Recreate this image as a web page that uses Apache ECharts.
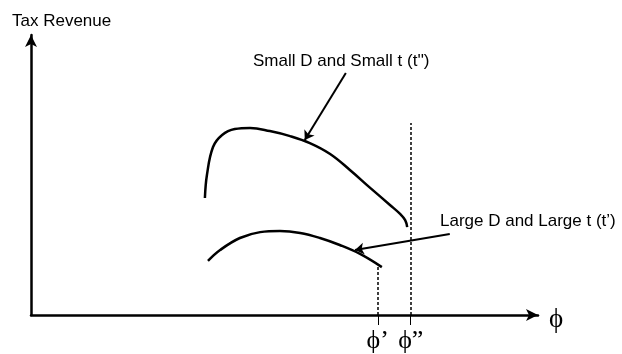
<!DOCTYPE html>
<html>
<head>
<meta charset="utf-8">
<script src="https://cdn.jsdelivr.net/npm/echarts@6/dist/echarts.min.js"></script>
<style>
  html, body { margin: 0; padding: 0; background: #fff; }
  #chart { width: 622px; height: 354px; }
</style>
</head>
<body>
<div id="chart"></div>
<script>
// schematic values, both axes run 0..100
var smallPhi = [34.3, 34.7, 35.9, 37.7, 40.2, 43.2, 47.1, 51.1, 55.0, 59.0, 62.9, 66.9, 70.8, 72.8, 73.8, 74.2];
var smallRev = [41.8, 50.0, 60.0, 64.3, 66.4, 66.8, 65.7, 63.9, 61.4, 57.5, 51.8, 45.4, 39.3, 36.1, 33.9, 31.4];
var largePhi = [34.9, 37.3, 41.2, 45.2, 49.1, 53.1, 57.0, 60.9, 64.9, 69.2];
var largeRev = [19.3, 23.2, 27.5, 29.6, 30.0, 29.3, 27.5, 25.0, 21.8, 17.1];
var phiTicks = [68.4, 74.9];
var phiTickLabels = ['ϕ’', 'ϕ”'];
var cutoffTop = [17.9, 68.6];   // height of the dashed lines
// annotation arrows: [fromX, fromY, toX, toY]
var arrowSmall = [62.1, 86.4, 54.0, 62.5];
var arrowLarge = [82.6, 28.9, 63.9, 23.2];

function pairs(xs, ys) {
    var out = [];
    for (var i = 0; i < xs.length; i++) {
        out.push([xs[i], ys[i]]);
    }
    return out;
}

var myChart = echarts.init(document.getElementById('chart'), null, {renderer: 'canvas'});

var dashData = [];
for (var i = 0; i < phiTicks.length; i++) {
    dashData.push([{coord: [phiTicks[i], 0]}, {coord: [phiTicks[i], cutoffTop[i]]}]);
}

var curveStyle = {color: '#000', width: 2.5};
var sansFont = '17px "Liberation Sans"';

var option = {
    animation: false,
    backgroundColor: '#fff',
    grid: {left: 31, right: 84, top: 35, bottom: 39},
    xAxis: {
        type: 'value',
        min: 0,
        max: 100,
        splitLine: {show: false},
        axisLine: {
            lineStyle: {color: '#000', width: 2.5},
            symbol: ['none', 'arrow'],
            symbolSize: [9, 12]
        },
        axisTick: {
            customValues: phiTicks,
            length: 10,
            lineStyle: {color: '#000', width: 1}
        },
        axisLabel: {
            customValues: phiTicks,
            formatter: function (v) {
                return phiTickLabels[phiTicks.indexOf(v)];
            },
            fontFamily: 'Liberation Serif',
            fontSize: 26,
            color: '#000',
            margin: 13
        }
    },
    yAxis: {
        type: 'value',
        min: 0,
        max: 100,
        splitLine: {show: false},
        axisTick: {show: false},
        axisLabel: {show: false},
        axisLine: {
            lineStyle: {color: '#000', width: 2.5},
            symbol: ['none', 'arrow'],
            symbolSize: [9, 12]
        }
    },
    graphic: [
        {type: 'text', x: 12, y: 21, style: {text: 'Tax Revenue', font: sansFont, fill: '#000', verticalAlign: 'middle'}},
        {type: 'text', x: 253, y: 61, style: {text: "Small D and Small t (t'')", font: sansFont, fill: '#000', verticalAlign: 'middle'}},
        {type: 'text', x: 440, y: 221, style: {text: 'Large D and Large t (t’)', font: sansFont, fill: '#000', verticalAlign: 'middle'}},
        {type: 'text', x: 549, y: 320, style: {text: 'ϕ', font: '27px "Liberation Serif"', fill: '#000', verticalAlign: 'middle'}}
    ],
    series: [
        {
            name: 'Small D and Small t',
            type: 'line',
            smooth: 0.4,
            symbol: 'none',
            lineStyle: curveStyle,
            data: pairs(smallPhi, smallRev),
            markLine: {
                silent: true,
                symbol: ['none', 'arrow'],
                symbolSize: 9,
                label: {show: false},
                lineStyle: {color: '#000', width: 2, type: 'solid'},
                data: [
                    [{coord: [arrowSmall[0], arrowSmall[1]]}, {coord: [arrowSmall[2], arrowSmall[3]]}],
                    [{coord: [arrowLarge[0], arrowLarge[1]]}, {coord: [arrowLarge[2], arrowLarge[3]]}]
                ]
            }
        },
        {
            name: 'Large D and Large t',
            type: 'line',
            smooth: 0.4,
            symbol: 'none',
            lineStyle: curveStyle,
            data: pairs(largePhi, largeRev),
            markLine: {
                silent: true,
                symbol: 'none',
                label: {show: false},
                lineStyle: {color: '#000', width: 1.5, type: [3, 2]},
                data: dashData
            }
        }
    ]
};

myChart.setOption(option);
</script>
</body>
</html>
